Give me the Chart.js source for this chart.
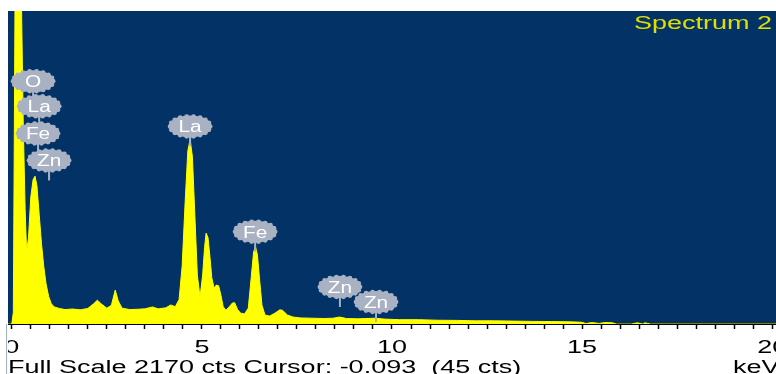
<!DOCTYPE html>
<html lang="en">

<head>
  <meta charset="UTF-8">
  <meta name="viewport" content="width=device-width, initial-scale=1.0">
  <script src="https://cdn.jsdelivr.net/npm/chart.js"></script>
  <title>Spectrum 2</title>
  <style>
    body {
      margin: 0;
      width: 776px;
      height: 374px;
      overflow: hidden;
      background: #fff;
      position: relative;
    }

    #wrap {
      position: absolute;
      left: 8px;
      top: 0;
      width: 768px;
      height: 374px;
    }

    .txt {
      position: absolute;
      font: 18px "Liberation Sans", Arial, sans-serif;
      line-height: 18px;
      white-space: pre;
      transform: scaleX(1.5);
      transform-origin: 0 0;
      color: #000;
    }

    #edge {
      position: absolute;
      left: 6px;
      top: 324px;
      width: 1px;
      height: 50px;
      background: #9db2cf;
    }
  </style>
</head>

<body>
  <div id="wrap"><canvas id="spectrum"></canvas></div>
  <div id="edge"></div>
  <div class="txt" style="left:8px; top:358px">Full Scale 2170 cts Cursor: -0.093  (45 cts)</div>
  <div class="txt" style="left:733px; top:358px">keV</div>
  <div class="txt" style="left:634px; top:14px; color:#dfe000">Spectrum 2</div>
</body>
</html>
<script>
  // spectre (keV / coups)
  const energies = [-0.10, 0.00, 0.04, 0.07, 0.10, 0.20, 0.25, 0.30, 0.35, 0.39,
    0.44, 0.50, 0.56, 0.61, 0.66, 0.72, 0.78, 0.84, 0.90, 0.97,
    1.04, 1.12, 1.25, 1.40, 1.60, 1.80, 2.00, 2.15, 2.25, 2.35,
    2.50, 2.62, 2.72, 2.80, 2.90, 3.10, 3.30, 3.50, 3.70, 3.85,
    4.05, 4.18, 4.30, 4.40, 4.48, 4.56, 4.63, 4.69, 4.75, 4.82,
    4.88, 4.95, 5.02, 5.07, 5.11, 5.16, 5.21, 5.26, 5.32, 5.38,
    5.44, 5.50, 5.56, 5.63, 5.72, 5.80, 5.86, 5.94, 6.02, 6.12, 6.22,
    6.30, 6.36, 6.41, 6.46, 6.52, 6.58, 6.66, 6.78, 6.92, 7.05,
    7.12, 7.25, 7.40, 7.60, 7.90, 8.20, 8.45, 8.62, 8.80, 9.10,
    9.55, 9.80, 10.20, 10.70, 11.20, 11.70, 12.20, 12.70, 13.20, 13.70,
    14.20, 14.70, 15.00, 15.10, 15.25, 15.45, 15.60, 15.80, 15.90, 16.30,
    16.45, 16.60, 16.65, 16.80, 20.10];
  const counts = [0, 0, 80, 1500, 3000, 3000, 2300, 1400, 800, 500,
    600, 880, 1000, 1025, 960, 760, 560, 400, 280, 190,
    140, 118, 108, 100, 104, 98, 108, 140, 165, 140,
    110, 130, 235, 160, 110, 100, 102, 105, 118, 105,
    112, 132, 120, 170, 400, 850, 1200, 1280, 1160, 720,
    340, 185, 340, 530, 630, 600, 470, 320, 250, 270,
    265, 200, 120, 95, 120, 145, 148, 100, 75, 70, 110,
    330, 500, 535, 480, 300, 130, 62, 55, 75, 98,
    95, 62, 48, 42, 40, 38, 40, 48, 38, 36,
    40, 34, 30, 30, 26, 25, 22, 22, 20, 18,
    17, 15, 12, 3, 10, 4, 10, 8, 0, 0,
    8, 0, 8, 0, 0];

  const fullScale = 2170;

  // étiquettes des pics
  const peakNames = ['O', 'La', 'Fe', 'Zn', 'La', 'Fe', 'Zn', 'Zn'];
  const peakEnergies = [0.56, 0.72, 0.69, 0.98, 4.69, 6.40, 8.63, 9.58];
  const peakTagCounts = [1683, 1509, 1321, 1134, 1370, 640, 257, 153];

  const isHalf = v => Math.abs(v * 2 - Math.round(v * 2)) < 1e-6;
  const isMajor = v => Math.abs(v / 5 - Math.round(v / 5)) < 1e-6;

  const spectrumDecor = {
    id: 'spectrumDecor',
    beforeDraw(chart) {
      const { ctx, chartArea: a } = chart;
      ctx.save();
      ctx.fillStyle = '#033366';
      ctx.fillRect(a.left, a.top, a.right - a.left, a.bottom - a.top);
      ctx.restore();
    },
    afterDraw(chart) {
      const { ctx } = chart;
      const xs = chart.scales.x;
      const ys = chart.scales.y;

      // graduations 0, 5, 10...
      xs.ticks.forEach(t => {
        if (!isMajor(t.value)) return;
        const px = xs.getPixelForValue(t.value);
        ctx.save();
        ctx.translate(px, 353);
        ctx.scale(1.5, 1);
        ctx.textAlign = 'center';
        ctx.font = '18px "Liberation Sans", Arial, sans-serif';
        ctx.fillStyle = '#000';
        ctx.fillText(String(Math.round(t.value)), 0, 0);
        ctx.restore();
      });

      // tiges
      ctx.save();
      ctx.strokeStyle = '#a9b2c2';
      ctx.lineWidth = 2;
      peakNames.forEach((n, i) => {
        const px = xs.getPixelForValue(peakEnergies[i]);
        const py = ys.getPixelForValue(peakTagCounts[i]);
        ctx.beginPath();
        ctx.moveTo(px, py);
        ctx.lineTo(px, py + 20);
        ctx.stroke();
      });
      ctx.restore();

      // bulles
      peakNames.forEach((n, i) => {
        const px = xs.getPixelForValue(peakEnergies[i]);
        const py = ys.getPixelForValue(peakTagCounts[i]);
        ctx.save();
        ctx.fillStyle = '#a9b2c2';
        ctx.beginPath();
        ctx.ellipse(px, py, 21, 11, 0, 0, Math.PI * 2);
        ctx.fill();
        for (let k = 0; k < 18; k++) {
          const ang = k * Math.PI * 2 / 18;
          ctx.beginPath();
          ctx.arc(px + 20 * Math.cos(ang), py + 10 * Math.sin(ang), 2.4, 0, Math.PI * 2);
          ctx.fill();
        }
        ctx.translate(px, py + 6);
        ctx.scale(1.3, 1);
        ctx.textAlign = 'center';
        ctx.font = '16px "Liberation Sans", Arial, sans-serif';
        ctx.fillStyle = '#ffffff';
        ctx.fillText(n, 0, 0);
        ctx.restore();
      });
    }
  };

  const ctxSpec = document.getElementById('spectrum');

  const chartSpec = new Chart(ctxSpec, {
    type: 'line',
    data: {
      datasets: [{
        label: 'Spectrum 2',
        data: energies.map((e, i) => ({ x: e, y: counts[i] })),
        borderColor: '#ffff00',
        backgroundColor: '#ffff00',
        borderWidth: 1,
        pointRadius: 0,
        fill: 'origin',
        tension: 0,
        clip: 0
      }]
    },
    options: {
      responsive: true,
      maintainAspectRatio: false,
      animation: false,
      layout: { padding: { top: 11, left: 0, right: 0, bottom: 0 } },
      plugins: {
        legend: { display: false },
        tooltip: { enabled: false }
      },
      scales: {
        x: {
          type: 'linear',
          min: -0.1,
          max: 20.1,
          afterBuildTicks: s => {
            s.ticks = s.ticks.filter(t => isHalf(t.value) && t.value >= s.min && t.value <= s.max);
          },
          afterFit: s => {
            s.height = 50;
            s.paddingLeft = 0;
            s.paddingRight = 0;
          },
          ticks: { stepSize: 0.5, display: false, autoSkip: false, includeBounds: false },
          grid: {
            drawOnChartArea: false,
            drawTicks: true,
            tickLength: 5,
            tickColor: '#000',
            tickWidth: 1.5
          },
          border: { display: true, color: '#000', width: 2 }
        },
        y: {
          display: false,
          min: 0,
          max: fullScale
        }
      }
    },
    plugins: [spectrumDecor]
  });
</script>
